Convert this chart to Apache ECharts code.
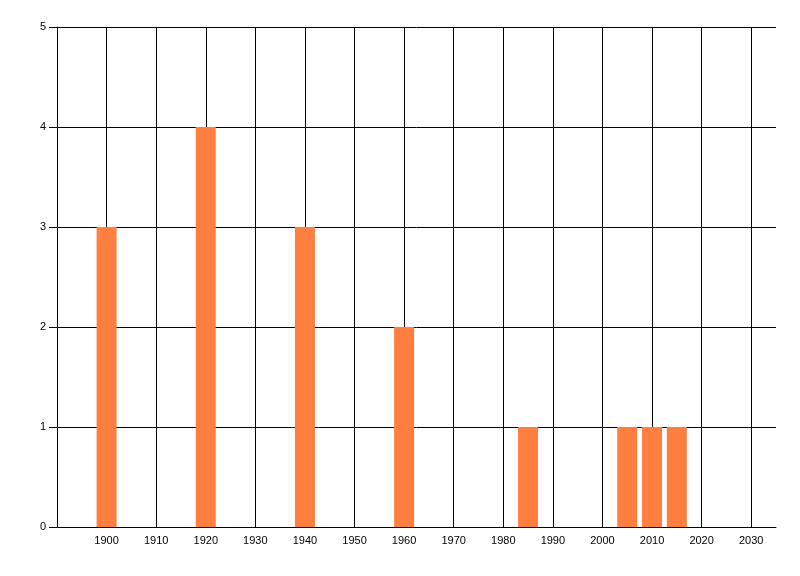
<!DOCTYPE html>
<html>
<head>
<meta charset="utf-8">
<script src="https://cdn.jsdelivr.net/npm/echarts@6/dist/echarts.min.js"></script>
<style>
html,body{margin:0;padding:0;background:#fff;}
#chart{width:800px;height:576px;}
</style>
</head>
<body>
<div id="chart"></div>
<script>
var years = [1900, 1920, 1940, 1960, 1985, 2005, 2010, 2015];
var counts = [3, 4, 3, 2, 1, 1, 1, 1];
var xMin = 1890, xMax = 2035, xStep = 10;
var yMin = 0, yMax = 5, yStep = 1;

var chart = echarts.init(document.getElementById('chart'), null, {renderer: 'canvas'});
var font = '"Liberation Sans", Arial, sans-serif';
chart.setOption({
  animation: false,
  backgroundColor: '#ffffff',
  grid: {left: 57, right: 24, top: 27, bottom: 49, containLabel: false},
  xAxis: {
    type: 'value', min: xMin, max: xMax, interval: xStep,
    axisLine: {show: true, lineStyle: {color: '#000', width: 1}},
    axisTick: {show: false},
    axisLabel: {color: '#000', fontSize: 11, fontFamily: font, margin: 8,
      showMinLabel: false, showMaxLabel: false,
      formatter: function (v) { return (v % 10 === 0 && v > xMin) ? String(v) : ''; }},
    splitLine: {show: true, showMinLine: false, showMaxLine: false, lineStyle: {color: '#000', width: 1}}
  },
  yAxis: {
    type: 'value', min: yMin, max: yMax, interval: yStep,
    axisLine: {show: true, lineStyle: {color: '#000', width: 1}},
    axisTick: {show: true, length: 8, lineStyle: {color: '#000'}},
    axisLabel: {color: '#000', fontSize: 11, fontFamily: font, margin: 11},
    splitLine: {show: true, lineStyle: {color: '#000', width: 1}}
  },
  series: [{
    type: 'bar',
    barWidth: 20,
    itemStyle: {color: '#FF7F40'},
    data: years.map(function (y, i) { return [y, counts[i]]; })
  }]
});
</script>
</body>
</html>
